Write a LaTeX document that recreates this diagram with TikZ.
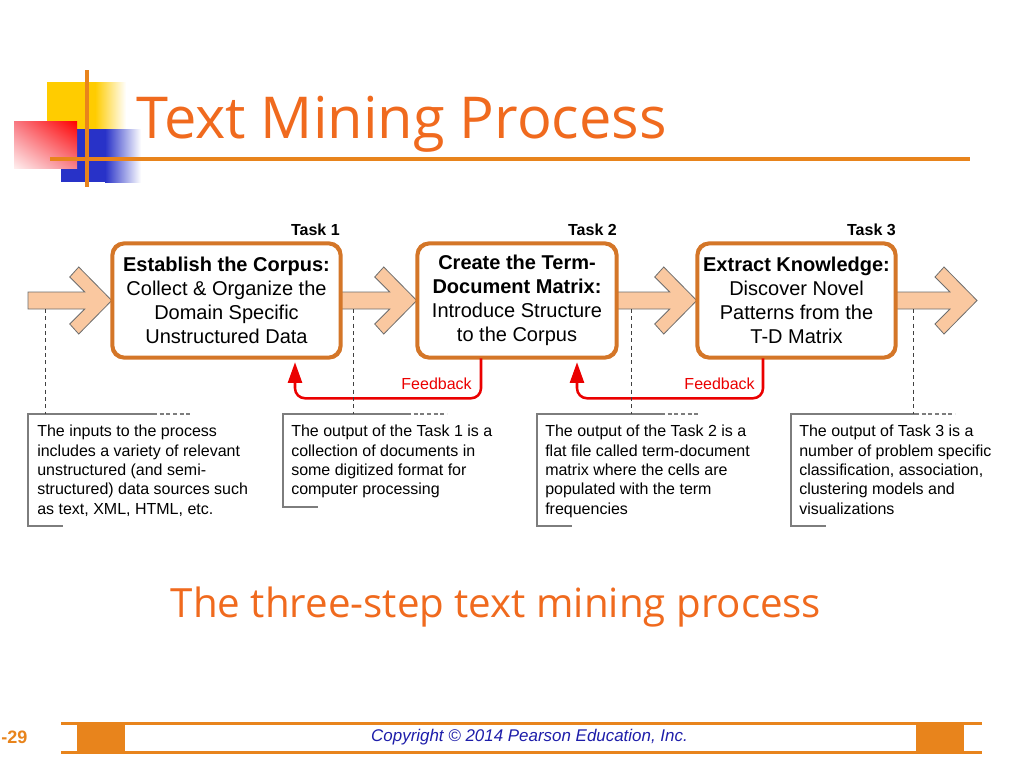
\documentclass[tikz,border=0pt]{standalone}
\usepackage{fontspec}
\setmainfont{Liberation Sans}
\newfontfamily\titlefont{Open Sans}
\usetikzlibrary{arrows.meta,calc,shadings}
\definecolor{titleorange}{RGB}{240,106,30}
\definecolor{lineorange}{RGB}{232,132,28}
\definecolor{boxorange}{RGB}{212,118,40}
\definecolor{peach}{RGB}{250,200,160}
\definecolor{arrowedge}{RGB}{110,110,110}
\definecolor{fbred}{RGB}{235,0,0}
\definecolor{calloutgray}{RGB}{125,125,125}
\definecolor{copyblue}{RGB}{30,30,170}
\definecolor{logoyellow}{RGB}{255,204,0}
\definecolor{logoblue}{RGB}{40,50,200}
\definecolor{logored}{RGB}{255,0,0}
\definecolor{redul}{RGB}{248,120,130}
\definecolor{redlr}{RGB}{246,130,140}
\definecolor{redll}{RGB}{255,238,238}
\tikzset{
  taskbox/.style={draw=boxorange, line width=1.9pt, fill=white, rounded corners=9pt,
    minimum height=84.75pt, align=center, inner sep=0pt,
    font=\fontsize{15}{18}\selectfont},
  tasklabel/.style={font=\fontsize{12}{14}\selectfont\bfseries, inner sep=0pt},
  fatarrowstyle/.style={fill=peach, draw=arrowedge, line width=0.6pt, line join=miter},
  calltext/.style={align=left, inner sep=0pt, anchor=north west,
    font=\fontsize{12}{14.5}\selectfont},
  bracketline/.style={draw=calloutgray, line width=1.3pt},
  bracketdash/.style={draw=calloutgray, line width=1.3pt, dash pattern=on 3pt off 2pt},
  guide/.style={draw=black!75, line width=0.6pt, dash pattern=on 3pt off 2.5pt},
  fb/.style={draw=fbred, line width=1.9pt, rounded corners=7.5pt,
    -{Triangle[length=15.5pt, width=10.5pt]}},
  fblabel/.style={text=fbred, font=\fontsize{12}{14}\selectfont, inner sep=0pt},
}
\newcommand\fatarrow[2]{%
  \path[fatarrowstyle] ($(#1)+(0,-8.5)$) -- ($(#2)+(-27,-8.5)$) -- ($(#2)+(-42,-23.5)$)
    -- ($(#2)+(-33,-33.5)$) -- (#2) -- ($(#2)+(-33,33.5)$) -- ($(#2)+(-42,23.5)$)
    -- ($(#2)+(-27,8.5)$) -- ($(#1)+(0,8.5)$) -- cycle;}
\begin{document}
\begin{tikzpicture}[x=0.75pt,y=-0.75pt]
\useasboundingbox (0,0) rectangle (1024,768);
\fill[white] (0,0) rectangle (1024,768);

% logo
\fill[logoyellow] (47,82) rectangle (95,150);
\shade[left color=logoyellow, right color=white] (95,82) rectangle (126,150);
\fill[logoblue] (61,129) rectangle (105,182);
\shade[left color=logoblue, right color=white] (105,129) rectangle (141,182);
\shade[upper right=logored, upper left=redul, lower right=redlr, lower left=redll]
  (14,121) rectangle (77,168);
\draw[lineorange, line width=2.3pt] (87,70) -- (87,187);
\draw[lineorange, line width=2.3pt] (50,159) -- (970,159);

% title
\node[anchor=base west, inner sep=0pt, text=titleorange] (title) at (136,138)
  {\titlefont\fontsize{43.3}{52}\selectfont Text Mining Process};

% task boxes
\node[taskbox, minimum width=170.25pt] (b1) at (226.5,300.5)
  {\textbf{Establish the Corpus:}\\Collect \& Organize the\\Domain Specific\\Unstructured Data};
\node[taskbox, minimum width=148.5pt] (b2) at (517,300.5)
  {\textbf{Create the Term-}\\\textbf{Document Matrix:}\\Introduce Structure\\to the Corpus};
\node[taskbox, minimum width=147.75pt] (b3) at (796.5,300.5)
  {\textbf{Extract Knowledge:}\\Discover Novel\\Patterns from the\\T-D Matrix};

\node[tasklabel, anchor=base east] (t1) at (340,235) {Task 1};
\node[tasklabel, anchor=base east] (t2) at (617,235) {Task 2};
\node[tasklabel, anchor=base east] (t3) at (896,235) {Task 3};

% fat arrows
\coordinate (in) at (28,300.5);
\coordinate (out) at (977,300.5);
\fatarrow{in}{b1.west}
\fatarrow{b1.east}{b2.west}
\fatarrow{b2.east}{b3.west}
\fatarrow{b3.east}{out}
% redraw boxes' borders over arrow ends
\draw[draw=boxorange, line width=1.9pt, rounded corners=9pt] (b1.south west) rectangle (b1.north east);
\draw[draw=boxorange, line width=1.9pt, rounded corners=9pt] (b2.south west) rectangle (b2.north east);
\draw[draw=boxorange, line width=1.9pt, rounded corners=9pt] (b3.south west) rectangle (b3.north east);

% feedback arrows
\draw[fb] ($(b2.south)+(-36,0)$) -- ($(b2.south)+(-36,40)$) -| ($(b1.south)+(68.5,4)$);
\draw[fb] ($(b3.south)+(-33.5,0)$) -- ($(b3.south)+(-33.5,40)$) -| ($(b2.south)+(60,4)$);
\node[fblabel, anchor=base east] (fb1) at (472,389) {Feedback};
\node[fblabel, anchor=base east] (fb2) at (755,389) {Feedback};

% callouts
\node[calltext] (c1) at (37,425) {The inputs to the process\\includes a variety of relevant\\unstructured (and semi-\\structured) data sources such\\as text, XML, HTML, etc.};
\node[calltext] (c2) at (291,425) {The output of the Task 1 is a\\collection of documents in\\some digitized format for\\computer processing};
\node[calltext] (c3) at (545,425) {The output of the Task 2 is a\\flat file called term-document\\matrix where the cells are\\populated with the term\\frequencies};
\node[calltext] (c4) at (799,425) {The output of Task 3 is a\\number of problem specific\\classification, association,\\clustering models and\\visualizations};

\draw[bracketline] (153,414) -- (28,414) -- (28,526) -- (63,526);
\draw[bracketdash] (153,414) -- (192,414);
\draw[bracketline] (407,414) -- (283,414) -- (283,507) -- (318,507);
\draw[bracketdash] (407,414) -- (447,414);
\draw[bracketline] (661,414) -- (537,414) -- (537,526) -- (572,526);
\draw[bracketdash] (661,414) -- (700,414);
\draw[bracketline] (915,414) -- (791,414) -- (791,526) -- (826,526);
\draw[bracketdash] (915,414) -- (955,414);

% guide lines
\coordinate (g1a) at (45,309);  \coordinate (g1b) at (45,414);
\coordinate (g2a) at (353,309); \coordinate (g2b) at (353,414);
\coordinate (g3a) at (631,309); \coordinate (g3b) at (631,414);
\coordinate (g4a) at (913,309); \coordinate (g4b) at (913,414);
\draw[guide] (g1a) -- (g1b);
\draw[guide] (g2a) -- (g2b);
\draw[guide] (g3a) -- (g3b);
\draw[guide] (g4a) -- (g4b);

% caption
\node[anchor=base, inner sep=0pt, text=titleorange] (cap) at (496,617)
  {\titlefont\fontsize{30.2}{36}\selectfont The three-step text mining process};

% footer
\draw[lineorange, line width=2.3pt] (61,723.5) -- (982,723.5);
\draw[lineorange, line width=2.3pt] (61,752.5) -- (982,752.5);
\fill[lineorange] (77,723.5) rectangle (125,752.5);
\fill[lineorange] (916,723.5) rectangle (964,752.5);
\node[anchor=west, inner sep=0pt, text=lineorange, font=\fontsize{13.5}{16}\selectfont\bfseries] (pg) at (1,737) {-29};
\node[inner sep=0pt, text=copyblue, font=\fontsize{12.7}{15}\selectfont\itshape] (copy) at (529.5,737)
  {Copyright © 2014 Pearson Education, Inc.};
\end{tikzpicture}
\end{document}
